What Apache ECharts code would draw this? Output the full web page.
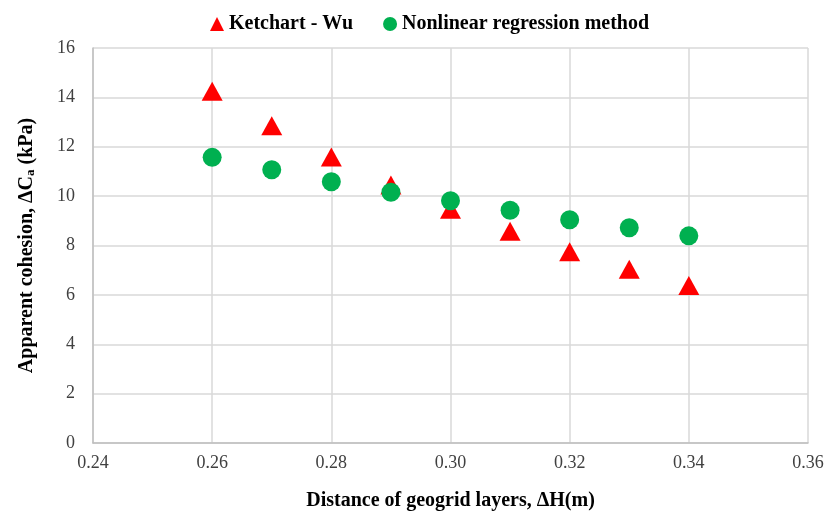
<!DOCTYPE html>
<html>
<head>
<meta charset="utf-8">
<script src="https://cdn.jsdelivr.net/npm/echarts@6/dist/echarts.min.js"></script>
<style>
  html, body { margin: 0; padding: 0; background: #fff; }
  #chart { width: 831px; height: 512px; }
</style>
</head>
<body>
<div id="chart"></div>
<script>
// spacing of geogrid layers (m)
const spacing = [0.26, 0.27, 0.28, 0.29, 0.30, 0.31, 0.32, 0.33, 0.34];
// apparent cohesion (kPa)
const ketchartWu = [14.25, 12.85, 11.58, 10.45, 9.47, 8.58, 7.75, 7.04, 6.38];
const nonlinear = [11.57, 11.07, 10.58, 10.16, 9.81, 9.43, 9.04, 8.72, 8.39];

const font = '"Liberation Serif", "Times New Roman", serif';

const chart = echarts.init(document.getElementById('chart'));

chart.setOption({
  animation: false,
  backgroundColor: '#fff',
  textStyle: { fontFamily: font },
  legend: {
    top: 9,
    left: 205,
    itemGap: 30,
    itemWidth: 14,
    itemHeight: 14,
    textStyle: { fontFamily: font, fontSize: 20, fontWeight: 'bold', color: '#000' },
    data: [
      { name: 'Ketchart - Wu', icon: 'triangle' },
      { name: 'Nonlinear regression method', icon: 'circle' }
    ]
  },
  grid: { left: 93, right: 23, top: 48, bottom: 69, outerBoundsMode: 'none', containLabel: false },
  xAxis: {
    type: 'value',
    min: 0.24,
    max: 0.36,
    interval: 0.02,
    name: 'Distance of geogrid layers, ΔH(m)',
    nameLocation: 'middle',
    nameGap: 48,
    nameTextStyle: { fontFamily: font, fontSize: 20, fontWeight: 'bold', color: '#000' },
    axisLine: { lineStyle: { color: '#bfbfbf', width: 1.5 } },
    axisTick: { show: false },
    axisLabel: {
      fontFamily: font, fontSize: 18, color: '#404040', margin: 11,
      formatter: v => v.toFixed(2)
    },
    splitLine: { lineStyle: { color: '#d9d9d9', width: 1.5 } }
  },
  yAxis: {
    type: 'value',
    min: 0,
    max: 16,
    interval: 2,
    name: '{t|Apparent cohesion, ΔC}{s|a}{t| (kPa)}',
    nameLocation: 'middle',
    nameGap: 56,
    nameTextStyle: {
      rich: {
        t: { fontFamily: font, fontSize: 20, fontWeight: 'bold', color: '#000' },
        s: { fontFamily: font, fontSize: 13, fontWeight: 'bold', color: '#000', verticalAlign: 'bottom', padding: [8, 0, 0, 0] }
      }
    },
    axisLine: { show: true, lineStyle: { color: '#bfbfbf', width: 1.5 } },
    axisTick: { show: false },
    axisLabel: { fontFamily: font, fontSize: 18, color: '#404040', margin: 18 },
    splitLine: { lineStyle: { color: '#d9d9d9', width: 1.5 } }
  },
  series: [
    {
      name: 'Ketchart - Wu',
      type: 'scatter',
      symbol: 'triangle',
      symbolSize: [21, 19],
      itemStyle: { color: '#ff0000', opacity: 1 },
      data: spacing.map((x, i) => [x, ketchartWu[i]])
    },
    {
      name: 'Nonlinear regression method',
      type: 'scatter',
      symbol: 'circle',
      symbolSize: 19,
      itemStyle: { color: '#00b050', opacity: 1 },
      data: spacing.map((x, i) => [x, nonlinear[i]])
    }
  ]
});
</script>
</body>
</html>
